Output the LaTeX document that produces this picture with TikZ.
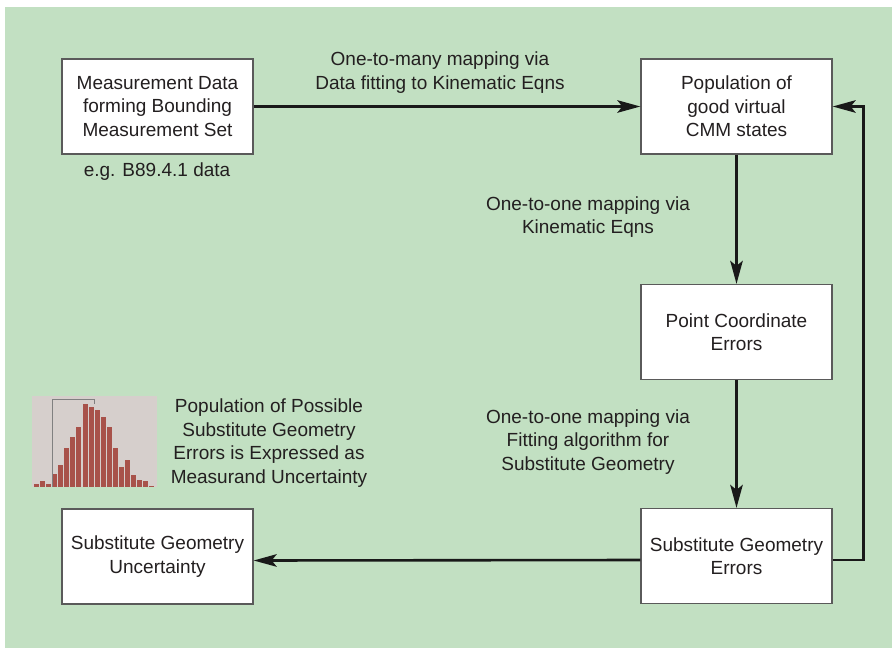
\documentclass[tikz,border=0pt]{standalone}
\usepackage{fontspec}
\setmainfont{Liberation Sans}
\usetikzlibrary{arrows.meta}
\definecolor{bggreen}{HTML}{C2E0C2}
\definecolor{txt}{HTML}{231F20}
\definecolor{boxline}{HTML}{5A5A5A}
\definecolor{histbg}{HTML}{D6CFCC}
\definecolor{barcol}{HTML}{A8524A}
\begin{document}
\begin{tikzpicture}[x=1pt,y=-1pt,
  font=\fontsize{19}{23.5}\selectfont, text=txt,
  box/.style={draw=boxline, line width=1.3pt, fill=white, minimum width=191pt,
    minimum height=95pt, align=center, inner sep=0pt},
  lbl/.style={align=center, inner sep=0pt},
  conn/.style={line width=2.6pt, draw=black!90,
    -{Stealth[length=23pt,width=12.5pt,inset=5pt]}}]
\useasboundingbox (0,0) rectangle (892,648);
\fill[bggreen] (5,7) rectangle (892,648);

% boxes
\node[box] (A) at (157.5,106.5) {Measurement Data\\forming Bounding\\Measurement Set};
\node[box] (B) at (736.5,106.5) {Population of\\good virtual\\CMM states};
\node[box] (C) at (736.5,332) {Point Coordinate\\Errors};
\node[box] (D) at (736.5,556) {Substitute Geometry\\Errors};
\node[box] (E) at (157.5,556.5) {Substitute Geometry\\Uncertainty};

% labels
\node[lbl] (l1) at (440,72.5) {One-to-many mapping via\\Data fitting to Kinematic Eqns};
\node[lbl] (l0) at (157,172) {e.g. B89.4.1 data};
\node[lbl] (l2) at (588,217) {One-to-one mapping via\\Kinematic Eqns};
\node[lbl] (l3) at (588,442) {One-to-one mapping via\\Fitting algorithm for\\Substitute Geometry};
\node[lbl] (l4) at (269,443) {Population of Possible\\Substitute Geometry\\Errors is Expressed as\\Measurand Uncertainty};

% connectors
\draw[conn] (A.east) -- (B.west);
\draw[conn] (B.south) -- (C.north);
\draw[conn] (C.south) -- (D.north);
\draw[conn] ([yshift=-4pt]D.west) -- ([yshift=-4pt]E.east);
\coordinate (fb) at (863.5,106.5);
\draw[conn] ([yshift=-4pt]D.east) -| (fb) -- (B.east);

% histogram
\fill[histbg] (32,396) rectangle (157,487);
\foreach \i/\h in {1/2.3,2/6,3/2.3,4/13,5/21.3,6/39,7/49.3,8/59.3,9/82.3,10/80,
                   11/77,12/70,13/59.3,14/39,15/19.7,16/26.3,17/11.3,18/7,19/6,20/1}
  \fill[barcol] ({34+(\i-1)*6.07},486.7) rectangle ++(5,-\h);
\draw[gray, line width=0.5pt] (52.3,486.7) -- (52.3,399.3) -- (94,399.3) -- (94,404);
\end{tikzpicture}
\end{document}
